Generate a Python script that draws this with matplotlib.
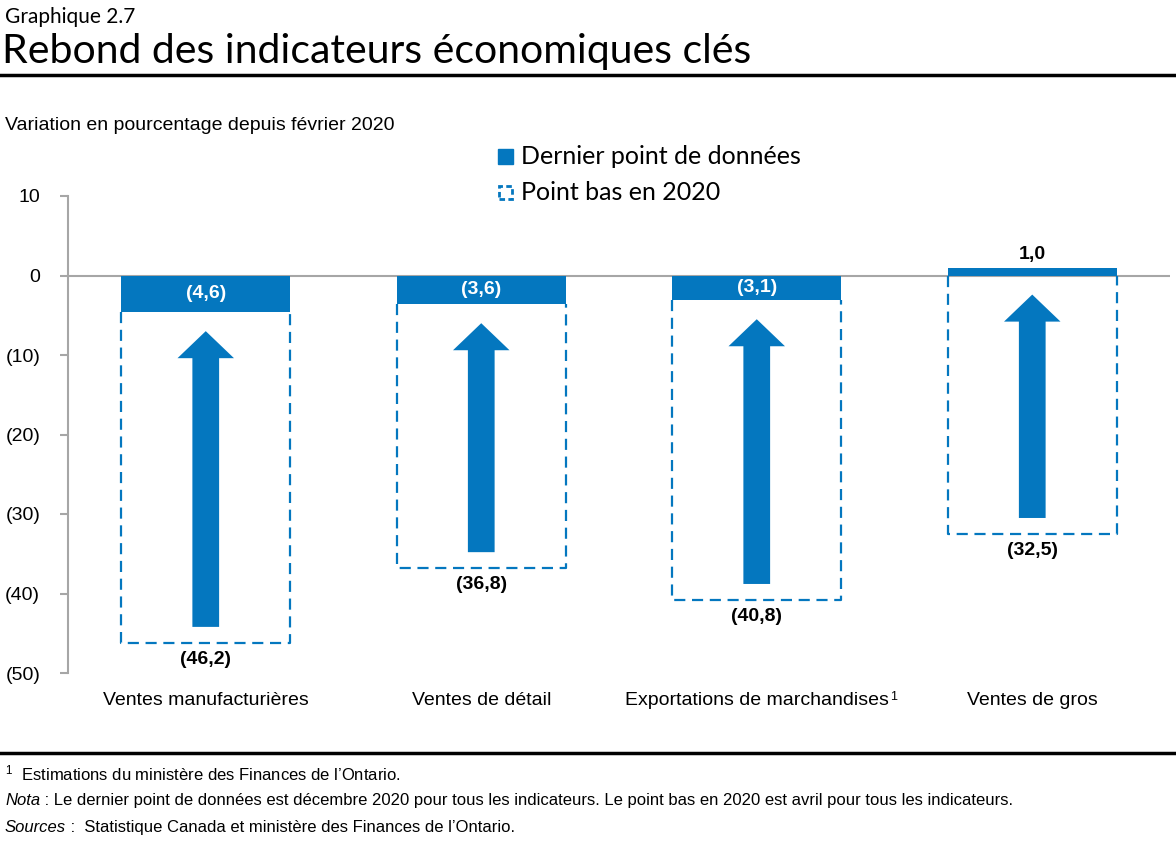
import matplotlib
matplotlib.use("Agg")
import matplotlib.pyplot as plt
from matplotlib.patches import FancyArrow, Rectangle
import numpy as np

# donnees
categories = ["Ventes manufacturières", "Ventes de détail",
              "Exportations de marchandises", "Ventes de gros"]
notes_cat = ["", "", "1", ""]
dernier = [-4.6, -3.6, -3.1, 1.0]
point_bas = [-46.2, -36.8, -40.8, -32.5]
yticks = [10, 0, -10, -20, -30, -40, -50]
ytick_labels = ["10", "0", "(10)", "(20)", "(30)", "(40)", "(50)"]

bleu = "#0477BF"
gris = "#A6A6A6"
corps = ["Liberation Sans", "DejaVu Sans"]
titre_font = ["Lato", "DejaVu Sans"]

plt.rcParams["font.family"] = corps
plt.rcParams["mathtext.fontset"] = "custom"
plt.rcParams["mathtext.rm"] = "Liberation Sans"
plt.rcParams["mathtext.it"] = "Liberation Sans:italic"
plt.rcParams["mathtext.bf"] = "Liberation Sans:bold"
plt.rcParams["mathtext.default"] = "regular"


def fmt(v):
    s = f"{abs(v):.1f}".replace(".", ",")
    return f"({s})" if v < 0 else s


fig = plt.figure(figsize=(11.76, 8.42), dpi=100)
ax = fig.add_axes([68 / 1176, 1 - 673 / 842, (1170 - 68) / 1176, (673 - 196) / 842])

x = np.arange(len(categories))
w = 0.615

# point bas : boite pointillee ouverte en haut (sous la barre pleine)
for xi, d, b in zip(x, dernier, point_bas):
    haut = min(d, 0)
    ax.plot([xi - w / 2, xi - w / 2, xi + w / 2, xi + w / 2], [haut, b, b, haut],
            color=bleu, linewidth=1.6, linestyle=(0, (5, 3)), zorder=2)
# dernier point : barre pleine
ax.bar(x, dernier, w, color=bleu, zorder=3)
ax.axhline(0, color=gris, linewidth=1.5, zorder=1)

# fleches
for xi, d, b in zip(x, dernier, point_bas):
    y0 = b + 2.0
    y1 = min(d, 0) - 2.4
    ax.add_patch(FancyArrow(xi, y0, 0, y1 - y0, width=0.097, head_width=0.205,
                            head_length=3.4, length_includes_head=True,
                            color=bleu, linewidth=0, zorder=4))

# etiquettes
for xi, d, b in zip(x, dernier, point_bas):
    if d < 0:
        ax.text(xi, d / 2, fmt(d), ha="center", va="center", color="white",
                fontsize=14, fontweight="bold", zorder=5)
    else:
        ax.text(xi, d + 0.6, fmt(d), ha="center", va="bottom", color="black",
                fontsize=14, fontweight="bold", zorder=5)
    ax.text(xi, b - 1.0, fmt(b), ha="center", va="top", color="black",
            fontsize=14, fontweight="bold")

ax.set_xlim(-0.5, len(categories) - 0.5)
ax.set_ylim(-50, 10)
ax.set_yticks(yticks)
ax.set_yticklabels(ytick_labels, fontsize=14)
ax.set_xticks(x)
ax.set_xticklabels(categories, fontsize=14)
ax.tick_params(axis="x", length=0, pad=14)
ax.tick_params(axis="y", length=6, width=1.5, color=gris, pad=14)
for s in ["top", "right", "bottom"]:
    ax.spines[s].set_visible(False)
ax.spines["left"].set_color(gris)
ax.spines["left"].set_linewidth(1.5)

fig.canvas.draw()
r = fig.canvas.get_renderer()
# appel de note sur l'etiquette
for lab, n in zip(ax.get_xticklabels(), notes_cat):
    if n:
        bb = lab.get_window_extent(r)
        fig.text(bb.x1 / 1176 + 1 / 1176, bb.y1 / 842 + 1 / 842, n,
                 fontsize=9, va="top")

# titres
fig.text(5 / 1176, 1 - 17 / 842, "Graphique 2.7", fontsize=15, va="center",
         family=titre_font)
fig.text(2 / 1176, 1 - 52 / 842, "Rebond des indicateurs économiques clés",
         fontsize=29.5, va="center", family=titre_font)
fig.add_artist(plt.Line2D([0, 1], [1 - 75 / 842] * 2, color="black", linewidth=2.5))
fig.text(5 / 1176, 1 - 126 / 842, "Variation en pourcentage depuis février 2020",
         fontsize=14, va="center")

# legende
fig.add_artist(Rectangle((498 / 1176, 1 - 164 / 842), 15 / 1176, 15 / 842,
                         transform=fig.transFigure, color=bleu))
fig.text(521 / 1176, 1 - 156 / 842, "Dernier point de données", fontsize=18,
         va="center", family=titre_font)
fig.add_artist(Rectangle((499 / 1176, 1 - 199 / 842), 13 / 1176, 13 / 842,
                         transform=fig.transFigure, fill=False, edgecolor=bleu,
                         linewidth=2, linestyle=(0, (2, 1.2))))
fig.text(521 / 1176, 1 - 192 / 842, "Point bas en 2020", fontsize=18,
         va="center", family=titre_font)

# notes
fig.add_artist(plt.Line2D([0, 1], [1 - 753 / 842] * 2, color="black", linewidth=2.5))
fig.text(5 / 1176, 1 - 773 / 842,
         "$^{1}$  Estimations du ministère des Finances de l’Ontario.",
         fontsize=12, va="center")


def note(y, debut, reste):
    t = fig.text(5 / 1176, 1 - y / 842, debut, fontsize=12, va="baseline",
                 fontstyle="italic")
    bb = t.get_window_extent(r)
    fig.text(bb.x1 / 1176, 1 - y / 842, reste, fontsize=12, va="baseline")


note(805, "Nota", " : Le dernier point de données est décembre 2020 pour tous les "
     "indicateurs. Le point bas en 2020 est avril pour tous les indicateurs.")
note(832, "Sources", " :  Statistique Canada et ministère des Finances de l’Ontario.")

fig.savefig("out.png", dpi=100)
